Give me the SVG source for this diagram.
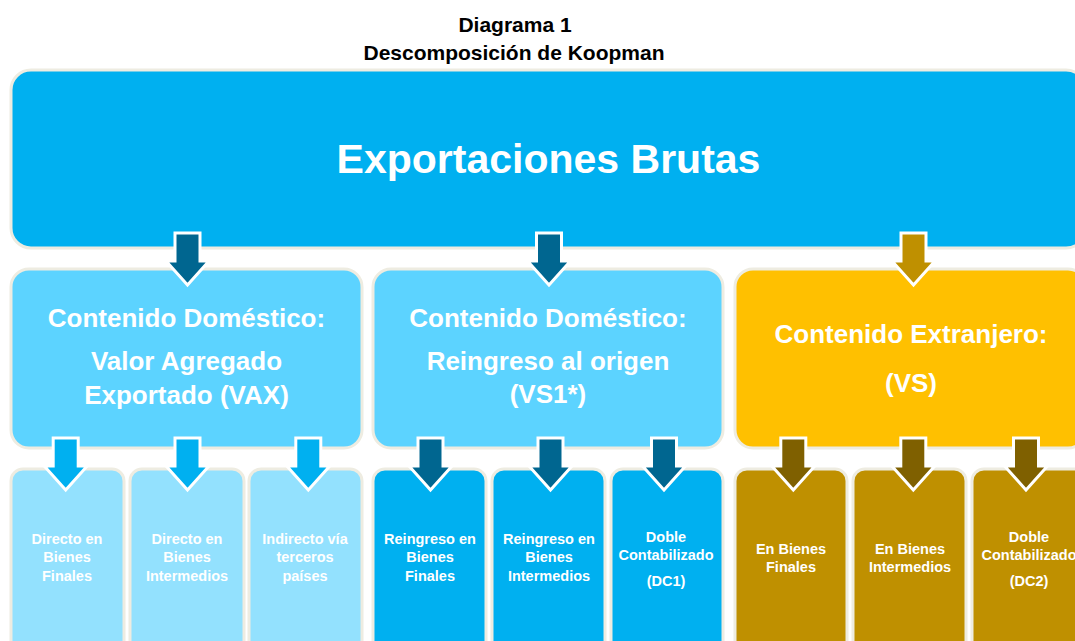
<svg xmlns="http://www.w3.org/2000/svg" width="1075" height="641" viewBox="0 0 1075 641">
<style>
.box{stroke:#EEECE1;stroke-width:3}
.t{font-family:"Liberation Sans",Arial,sans-serif;font-weight:bold;text-anchor:middle}
.title{font-size:21px;fill:#000}
.big{font-size:41px;fill:#fff}
.mid{font-size:26px;fill:#fff}
.sm{font-size:14.5px;fill:#fff}
.arr{stroke:#fff;stroke-width:3;stroke-linejoin:miter}
</style>
<defs>
<path id="ar" d="M -12.5 0 H 12.5 V 28 H 21.5 L 0 52 L -21.5 28 H -12.5 Z"/>
</defs>
<rect width="1075" height="641" fill="#fff"/>
<g id="title">
<text class="t title" x="515" y="32">Diagrama 1</text>
<text class="t title" x="514" y="60">Descomposición de Koopman</text>
</g>
<g id="exportaciones-brutas">
<rect class="box" x="11" y="70" width="1075" height="178" rx="20" fill="#00B0F0"/>
<text class="t big" x="548.5" y="173">Exportaciones Brutas</text>
</g>
<g id="vax">
<rect class="box" x="11" y="269" width="351" height="179" rx="18" fill="#5CD3FF"/>
<text class="t mid" x="186.5" y="327">Contenido Doméstico:</text>
<text class="t mid" x="186.5" y="370">Valor Agregado</text>
<text class="t mid" x="186.5" y="404">Exportado (VAX)</text>
</g>
<g id="vs1">
<rect class="box" x="373" y="269" width="350" height="179" rx="18" fill="#5CD3FF"/>
<text class="t mid" x="548" y="327">Contenido Doméstico:</text>
<text class="t mid" x="548" y="370">Reingreso al origen</text>
<text class="t mid" x="548" y="403">(VS1*)</text>
</g>
<g id="vs">
<rect class="box" x="735" y="269" width="351" height="179" rx="18" fill="#FFC000"/>
<text class="t mid" x="911" y="343">Contenido Extranjero:</text>
<text class="t mid" x="911" y="392">(VS)</text>
</g>
<g id="vax-finales">
<rect class="box" x="11" y="469" width="113" height="200" rx="12" fill="#93E1FE"/>
<text class="t sm" x="67" y="544">Directo en</text>
<text class="t sm" x="67" y="562">Bienes</text>
<text class="t sm" x="67" y="581">Finales</text>
</g>
<g id="vax-intermedios">
<rect class="box" x="130" y="469" width="114" height="200" rx="12" fill="#93E1FE"/>
<text class="t sm" x="187" y="544">Directo en</text>
<text class="t sm" x="187" y="562">Bienes</text>
<text class="t sm" x="187" y="581">Intermedios</text>
</g>
<g id="vax-indirecto">
<rect class="box" x="249" y="469" width="113" height="200" rx="12" fill="#93E1FE"/>
<text class="t sm" x="305" y="544">Indirecto vía</text>
<text class="t sm" x="305" y="562">terceros</text>
<text class="t sm" x="305" y="581">países</text>
</g>
<g id="vs1-finales">
<rect class="box" x="373" y="469" width="113" height="200" rx="12" fill="#00B0F0"/>
<text class="t sm" x="430" y="544">Reingreso en</text>
<text class="t sm" x="430" y="562">Bienes</text>
<text class="t sm" x="430" y="581">Finales</text>
</g>
<g id="vs1-intermedios">
<rect class="box" x="492" y="469" width="113" height="200" rx="12" fill="#00B0F0"/>
<text class="t sm" x="549" y="544">Reingreso en</text>
<text class="t sm" x="549" y="562">Bienes</text>
<text class="t sm" x="549" y="581">Intermedios</text>
</g>
<g id="dc1">
<rect class="box" x="611" y="469" width="112" height="200" rx="12" fill="#00B0F0"/>
<text class="t sm" x="666" y="542">Doble</text>
<text class="t sm" x="666" y="560">Contabilizado</text>
<text class="t sm" x="666" y="586">(DC1)</text>
</g>
<g id="vs-finales">
<rect class="box" x="735" y="469" width="112" height="200" rx="12" fill="#BF9000"/>
<text class="t sm" x="791" y="554">En Bienes</text>
<text class="t sm" x="791" y="572">Finales</text>
</g>
<g id="vs-intermedios">
<rect class="box" x="853" y="469" width="113" height="200" rx="12" fill="#BF9000"/>
<text class="t sm" x="910" y="554">En Bienes</text>
<text class="t sm" x="910" y="572">Intermedios</text>
</g>
<g id="dc2">
<rect class="box" x="972" y="469" width="114" height="200" rx="12" fill="#BF9000"/>
<text class="t sm" x="1029" y="542">Doble</text>
<text class="t sm" x="1029" y="560">Contabilizado</text>
<text class="t sm" x="1029" y="586">(DC2)</text>
</g>
<g id="connectors">
<use href="#ar" class="arr" fill="#006690" transform="translate(187.5,233)"/>
<use href="#ar" class="arr" fill="#006690" transform="translate(549,233)"/>
<use href="#ar" class="arr" fill="#BF9000" transform="translate(913.5,233)"/>
<use href="#ar" class="arr" fill="#00B0F0" transform="translate(65.7,438)"/>
<use href="#ar" class="arr" fill="#00B0F0" transform="translate(187.5,438)"/>
<use href="#ar" class="arr" fill="#00B0F0" transform="translate(308.3,438)"/>
<use href="#ar" class="arr" fill="#006690" transform="translate(430.5,438)"/>
<use href="#ar" class="arr" fill="#006690" transform="translate(550.5,438)"/>
<use href="#ar" class="arr" fill="#006690" transform="translate(664,438)"/>
<use href="#ar" class="arr" fill="#7F6000" transform="translate(793.3,438)"/>
<use href="#ar" class="arr" fill="#7F6000" transform="translate(913.3,438)"/>
<use href="#ar" class="arr" fill="#7F6000" transform="translate(1026,438)"/>
</g>
</svg>
